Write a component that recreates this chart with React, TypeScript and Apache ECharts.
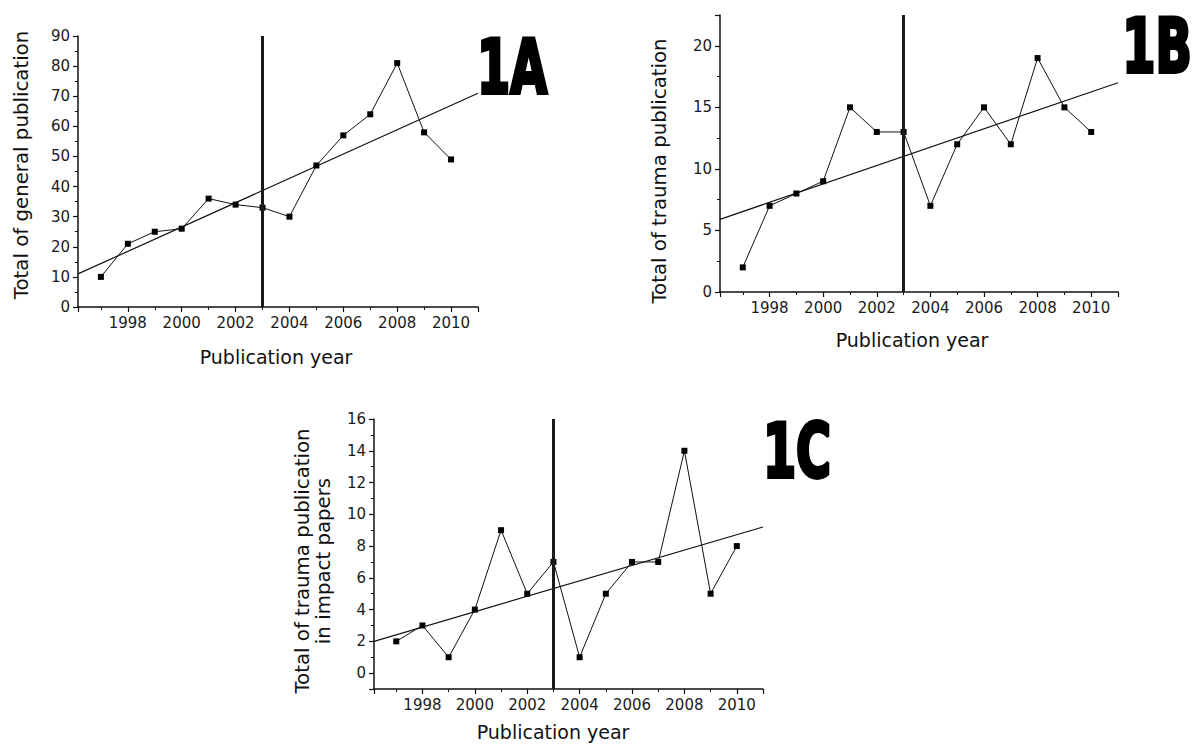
import React, { useEffect, useRef } from "react";
import * as echarts from "echarts";

const years = [1997, 1998, 1999, 2000, 2001, 2002, 2003, 2004, 2005, 2006, 2007, 2008, 2009, 2010];
const generalPubs = [10, 21, 25, 26, 36, 34, 33, 30, 47, 57, 64, 81, 58, 49];
const traumaPubs = [2, 7, 8, 9, 15, 13, 13, 7, 12, 15, 12, 19, 15, 13];
const impactPubs = [2, 3, 1, 4, 9, 5, 7, 1, 5, 7, 7, 14, 5, 8];

const trendXRange = [1996.15, 2011];
const trendGeneral = [11, 71];
const trendTrauma = [5.9, 17];
const trendImpact = [2, 9.2];

const cutYear = 2003;

const panelLabels = ["1A", "1B", "1C"];
const yNames = [
  "Total of general publication",
  "Total of trauma publication",
  "Total of trauma publication\nin impact papers",
];
const xName = "Publication year";

const FONT = "DejaVu Sans";

export default function App() {
  const ref = useRef<HTMLDivElement>(null);
  useEffect(() => {
    if (!ref.current) return;
    const chart = echarts.init(ref.current, null, { renderer: "svg" });

    const grids = [
      { left: 78, top: 36, width: 400, height: 271 },
      { left: 720, top: 15, width: 398, height: 277 },
      { left: 374, top: 419, width: 389, height: 270 },
    ];

    const axisLine = { show: true, onZero: false, lineStyle: { color: "#111", width: 1.5 } };
    const axisTick = { show: true, inside: false, length: 5, lineStyle: { color: "#111", width: 1.2 } };
    const minorTick = { show: true, splitNumber: 2, length: 3, lineStyle: { color: "#111", width: 1 } };
    const labelStyle = { color: "#1a1a1a", fontFamily: FONT, fontSize: 15, margin: 8 };

    const xAxes = grids.map((_, i) => ({
      type: "value",
      gridIndex: i,
      min: trendXRange[0],
      max: trendXRange[1],
      minInterval: 2,
      maxInterval: 2,
      splitNumber: 7,
      axisLine,
      axisTick,
      minorTick,
      splitLine: { show: false },
      axisLabel: {
        ...labelStyle,
        formatter: (v: number) => (Number.isInteger(v) && v % 2 === 0 ? String(v) : ""),
      },
    }));

    const yFormatter = (step: number) => (v: number) =>
      Number.isInteger(v) && v % step === 0 ? String(v) : "";

    const yAxes = [
      {
        type: "value", gridIndex: 0, min: 0, max: 90, interval: 10,
        axisLine, axisTick, minorTick, splitLine: { show: false },
        axisLabel: { ...labelStyle, formatter: yFormatter(10) },
      },
      {
        type: "value", gridIndex: 1, min: 0, max: 22.5, interval: 5,
        axisLine, axisTick, minorTick, splitLine: { show: false },
        axisLabel: { ...labelStyle, formatter: yFormatter(5) },
      },
      {
        type: "value", gridIndex: 2, min: -1, max: 16, minInterval: 2, maxInterval: 2, splitNumber: 8,
        axisLine, axisTick, minorTick, splitLine: { show: false },
        axisLabel: { ...labelStyle, formatter: yFormatter(2) },
      },
    ];

    const datasets = [generalPubs, traumaPubs, impactPubs];
    const trends = [trendGeneral, trendTrauma, trendImpact];

    const series: any[] = [];
    datasets.forEach((vals, i) => {
      series.push({
        type: "line",
        xAxisIndex: i,
        yAxisIndex: i,
        data: years.map((y, k) => [y, vals[k]]),
        symbol: "rect",
        symbolSize: 6,
        itemStyle: { color: "#000" },
        lineStyle: { color: "#111", width: 1 },
        markLine: {
          silent: true,
          symbol: ["none", "none"],
          label: { show: false },
          lineStyle: { color: "#1a1a1a", width: 3, type: "solid" },
          data: [{ xAxis: cutYear }],
        },
      });
      series.push({
        type: "line",
        xAxisIndex: i,
        yAxisIndex: i,
        data: trendXRange.map((x, k) => [x, trends[i][k]]),
        symbol: "none",
        lineStyle: { color: "#111", width: 1.2 },
      });
    });

    const labelPos = [
      { x: 512, y: 67 },
      { x: 1157, y: 46 },
      { x: 797, y: 451 },
    ];
    const yNamePos = [
      { x: 22, y: 165 },
      { x: 660, y: 171 },
      { x: 313, y: 561 },
    ];
    const xNamePos = [
      { x: 276, y: 357 },
      { x: 912, y: 340 },
      { x: 553, y: 732 },
    ];

    const graphic: any[] = [];
    panelLabels.forEach((t, i) => {
      graphic.push({
        type: "text",
        x: labelPos[i].x,
        y: labelPos[i].y,
        scaleX: 1.06,
        scaleY: 1.5,
        style: {
          text: t,
          fontFamily: "DejaVu Sans Condensed",
          fontWeight: "bold",
          fontSize: 50,
          fill: "#000",
          stroke: "#000",
          lineWidth: 2.5,
          align: "center",
          verticalAlign: "middle",
        },
      });
      graphic.push({
        type: "text",
        x: yNamePos[i].x,
        y: yNamePos[i].y,
        rotation: Math.PI / 2,
        scaleX: 1.04,
        style: {
          text: yNames[i],
          fontFamily: FONT,
          fontSize: 19,
          lineHeight: 21,
          fill: "#111",
          align: "center",
          verticalAlign: "middle",
        },
      });
      graphic.push({
        type: "text",
        x: xNamePos[i].x,
        y: xNamePos[i].y,
        style: {
          text: xName,
          fontFamily: FONT,
          fontSize: 19,
          fill: "#111",
          align: "center",
          verticalAlign: "middle",
        },
      });
    });

    chart.setOption({
      animation: false,
      backgroundColor: "#fff",
      grid: grids,
      xAxis: xAxes,
      yAxis: yAxes,
      series,
      graphic,
    });
    return () => chart.dispose();
  }, []);
  return (
    <div
      ref={ref}
      style={{ position: "absolute", left: 0, top: 0, width: 1200, height: 750 }}
    />
  );
}
